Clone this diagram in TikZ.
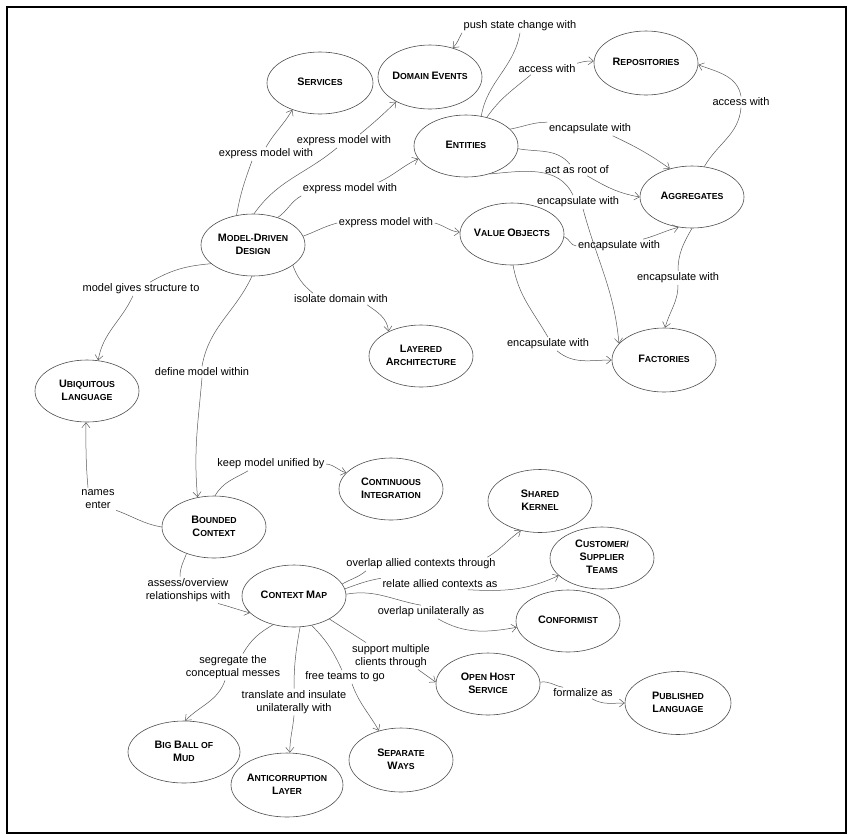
\documentclass[tikz,border=0pt]{standalone}
\usepackage{fontspec}
\setmainfont{Liberation Sans}
\usetikzlibrary{shapes.geometric,arrows.meta}
\newcommand\kk[2]{{\fontsize{10.8}{13.3}\selectfont#1}#2}
\newcommand\nd[1]{\makebox[0pt]{\begin{tabular}{@{}c@{}}#1\end{tabular}}}
\tikzset{
  el/.style={ellipse, draw=black!70, line width=0.6pt, inner sep=0pt,
    minimum width=104pt, minimum height=62pt,
    font=\fontsize{8.7}{13.3}\selectfont\bfseries},
  lb/.style={inner sep=1.5pt, align=center, font=\fontsize{11}{13.3}\selectfont},
  ed/.style={draw=black!65, line width=0.5pt},
  ar/.style={ed, -{Straight Barb[length=5pt,width=8pt]}}
}
\begin{document}
\begin{tikzpicture}[x=1pt,y=1pt]
\useasboundingbox (0,0) rectangle (856,-839);
\draw[line width=1.2pt] (7,-7) rectangle (846,-833);

% concept nodes
\node[el, minimum width=106pt] (serv) at (320,-83) {\nd{\kk{S}{ERVICES}}};
\node[el, minimum height=64pt] (devt) at (430,-77) {\nd{\kk{D}{OMAIN} \kk{E}{VENTS}}};
\node[el] (ent) at (466,-146) {\nd{\kk{E}{NTITIES}}};
\node[el, minimum height=64pt] (repo) at (646,-63) {\nd{\kk{R}{EPOSITORIES}}};
\node[el] (agg) at (692,-197) {\nd{\kk{A}{GGREGATES}}};
\node[el] (vo) at (512,-234) {\nd{\kk{V}{ALUE} \kk{O}{BJECTS}}};
\node[el, minimum height=64pt] (fact) at (664,-360) {\nd{\kk{F}{ACTORIES}}};
\node[el] (lay) at (421,-356) {\nd{\kk{L}{AYERED}\\\kk{A}{RCHITECTURE}}};
\node[el] (mdd) at (253,-245) {\nd{\kk{M}{ODEL}-\kk{D}{RIVEN}\\\kk{D}{ESIGN}}};
\node[el] (ul) at (87,-391) {\nd{\kk{U}{BIQUITOUS}\\\kk{L}{ANGUAGE}}};
\node[el] (ci) at (391,-489) {\nd{\kk{C}{ONTINUOUS}\\\kk{I}{NTEGRATION}}};
\node[el] (bc) at (214,-527) {\nd{\kk{B}{OUNDED}\\\kk{C}{ONTEXT}}};
\node[el] (cm) at (294,-596) {\nd{\kk{C}{ONTEXT} \kk{M}{AP}}};
\node[el, minimum height=63pt] (sk) at (540,-501) {\nd{\kk{S}{HARED}\\\kk{K}{ERNEL}}};
\node[el] (cst) at (602,-558) {\nd{\kk{C}{USTOMER}/\\\kk{S}{UPPLIER}\\\kk{T}{EAMS}}};
\node[el] (conf) at (568,-621) {\nd{\kk{C}{ONFORMIST}}};
\node[el] (ohs) at (488,-684) {\nd{\kk{O}{PEN} \kk{H}{OST}\\\kk{S}{ERVICE}}};
\node[el, minimum width=106pt, minimum height=63pt] (pl) at (678,-703) {\nd{\kk{P}{UBLISHED}\\\kk{L}{ANGUAGE}}};
\node[el, minimum width=112pt] (bbm) at (184,-752) {\nd{\kk{B}{IG} \kk{B}{ALL OF}\\\kk{M}{UD}}};
\node[el, minimum width=112pt, minimum height=64pt] (acl) at (287,-785) {\nd{\kk{A}{NTICORRUPTION}\\\kk{L}{AYER}}};
\node[el, minimum height=64pt] (sw) at (401,-760) {\nd{\kk{S}{EPARATE}\\\kk{W}{AYS}}};

% labels
\node[lb] (l_push) at (520,-26) {push state change with};
\node[lb] (l_acc1) at (547,-69) {access with};
\node[lb] (l_acc2) at (741,-102) {access with};
\node[lb] (l_enc1) at (590,-129) {encapsulate with};
\node[lb] (l_root) at (577,-170) {act as root of};
\node[lb] (l_enc2) at (578,-202) {encapsulate with};
\node[lb] (l_enc3) at (619,-246) {encapsulate with};
\node[lb] (l_enc4) at (678,-278) {encapsulate with};
\node[lb] (l_enc5) at (548,-344) {encapsulate with};
\node[lb] (l_ex1) at (266,-154) {express model with};
\node[lb] (l_ex2) at (344,-141) {express model with};
\node[lb] (l_ex3) at (350,-189) {express model with};
\node[lb] (l_ex4) at (386,-223) {express model with};
\node[lb] (l_iso) at (341,-299) {isolate domain with};
\node[lb] (l_mgs) at (141,-289) {model gives structure to};
\node[lb] (l_def) at (202,-372) {define model within};
\node[lb] (l_names) at (98,-499) {names\\enter};
\node[lb] (l_keep) at (271,-464) {keep model unified by};
\node[lb] (l_assess) at (188,-590) {assess/overview\\relationships with};
\node[lb] (l_ovl1) at (421,-564) {overlap allied contexts through};
\node[lb] (l_rel) at (440,-584) {relate allied contexts as};
\node[lb] (l_ovl2) at (431,-612) {overlap unilaterally as};
\node[lb] (l_sup) at (391,-656) {support multiple\\clients through};
\node[lb] (l_form) at (583,-693) {formalize as};
\node[lb] (l_free) at (345,-677) {free teams to go};
\node[lb] (l_trans) at (294,-702) {translate and insulate\\unilaterally with};
\node[lb] (l_seg) at (233,-667) {segregate the\\conceptual messes};

% connectors
\draw[ed] (ent.63) to[out=80,in=-100] (l_push.south);
\draw[ar] (l_push.south west) to[out=-120,in=45] (devt.52);

\draw[ed] (ent.54) to[out=55,in=-140] ([xshift=14pt]l_acc1.south west);
\draw[ar] (l_acc1.north east) to[out=15,in=175] (repo.178);

\draw[ed] (agg.68) to[out=60,in=-95] (l_acc2.south);
\draw[ar] (l_acc2.north) to[out=100,in=-20] (repo.-2);

\draw[ed] (ent.21) to[out=10,in=180] (l_enc1.north west);
\draw[ar] ([xshift=-20pt]l_enc1.south east) to[out=-25,in=145] (agg.128);

\draw[ed] (ent.-3) to[out=-10,in=130] ([xshift=-7pt]l_root.north);
\draw[ar] ([xshift=10pt]l_root.south) to[out=-30,in=170] (agg.180);

\draw[ed] (ent.-50) to[out=5,in=115] ([xshift=-5pt]l_enc2.north);
\draw[ar] ([xshift=5pt]l_enc2.south) to[out=-75,in=95] (fact.160);

\draw[ed] (vo.-3) to[out=-20,in=175] (l_enc3.west);
\draw[ar] ([xshift=24pt]l_enc3.north) to[out=15,in=-165] (agg.-114);

\draw[ed] (agg.-90) to[out=-120,in=90] (l_enc4.north);
\draw[ar] (l_enc4.south) to[out=-90,in=75] (fact.88);

\draw[ed] (vo.-88) to[out=-80,in=120] (l_enc5.north);
\draw[ar] ([xshift=9pt]l_enc5.south) to[out=-40,in=180] (fact.180);

\draw[ed] (mdd.119) to[out=80,in=-110] ([xshift=-14pt]l_ex1.south);
\draw[ar] (l_ex1.north) to[out=60,in=-120] (serv.-136);

\draw[ed] (mdd.88) to[out=55,in=-140] ([xshift=-7pt]l_ex2.south);
\draw[ar] ([xshift=16pt]l_ex2.north) to[out=40,in=-135] (devt.-144);

\draw[ed] (mdd.48) to[out=35,in=-150] (l_ex3.south west);
\draw[ar] ([xshift=-20pt]l_ex3.north east) to[out=25,in=-155] (ent.-165);

\draw[ed] (mdd.10) to[out=20,in=-165] (l_ex4.west);
\draw[ar] (l_ex4.east) to[out=-15,in=175] (vo.178);

\draw[ed] (mdd.-27) to[out=-70,in=140] ([xshift=-28pt]l_iso.north);
\draw[ar] ([xshift=26pt]l_iso.south) to[out=-35,in=95] (lay.143);

\draw[ed] (mdd.-156) to[out=185,in=30] ([xshift=9pt]l_mgs.north);
\draw[ar] ([xshift=-8pt]l_mgs.south) to[out=-115,in=80] (ul.70);

\draw[ed] (mdd.-92) to[out=-115,in=80] (l_def.north);
\draw[ar] (l_def.south) to[out=-95,in=95] (bc.119);

\draw[ed] (bc.180) to[out=170,in=-20] (l_names.south east);
\draw[ar] ([xshift=-10pt]l_names.north) to[out=95,in=-90] (ul.-92);

\draw[ed] (bc.88) to[out=60,in=-150] ([xshift=-23pt]l_keep.south);
\draw[ar] (l_keep.east) to[out=-5,in=165] (ci.160);

\draw[ed] (bc.-136) to[out=-110,in=90] ([xshift=-8pt]l_assess.north);
\draw[ar] ([xshift=30pt]l_assess.south) to[out=-15,in=165] (cm.-159);

\draw[ed] (cm.14) to[out=30,in=-140] ([xshift=-55pt]l_ovl1.south);
\draw[ar] ([xshift=-10pt]l_ovl1.north east) to[out=30,in=-145] (sk.-123);

\draw[ed] (cm.8) to[out=20,in=-170] (l_rel.north west);
\draw[ar] ([xshift=28pt]l_rel.south) to[out=-3,in=-155] (cst.-158);

\draw[ed] (cm.2) to[out=10,in=170] ([xshift=-10pt]l_ovl2.north);
\draw[ar] ([xshift=7pt]l_ovl2.south) to[out=-30,in=-170] (conf.-173);

\draw[ed] (cm.-33) -- ([xshift=-25pt]l_sup.north);
\draw[ar] ([xshift=27pt]l_sup.south) -- (ohs.178);

\draw[ed] (ohs.2) to[out=10,in=170] ([xshift=-20pt]l_form.north);
\draw[ar] ([xshift=9pt]l_form.south) to[out=-30,in=180] (pl.180);

\draw[ed] (cm.-59) to[out=-45,in=115] ([xshift=-3pt]l_free.north);
\draw[ar] ([xshift=7pt]l_free.south) to[out=-70,in=120] (sw.127);

\draw[ed] (cm.-79) to[out=-100,in=90] (l_trans.north);
\draw[ar] (l_trans.south) to[out=-95,in=90] (acl.85);

\draw[ed] (cm.-126) to[out=-150,in=60] ([xshift=10pt]l_seg.north);
\draw[ar] ([xshift=-8pt]l_seg.south) to[out=-110,in=45] (bbm.88);
\end{tikzpicture}
\end{document}
